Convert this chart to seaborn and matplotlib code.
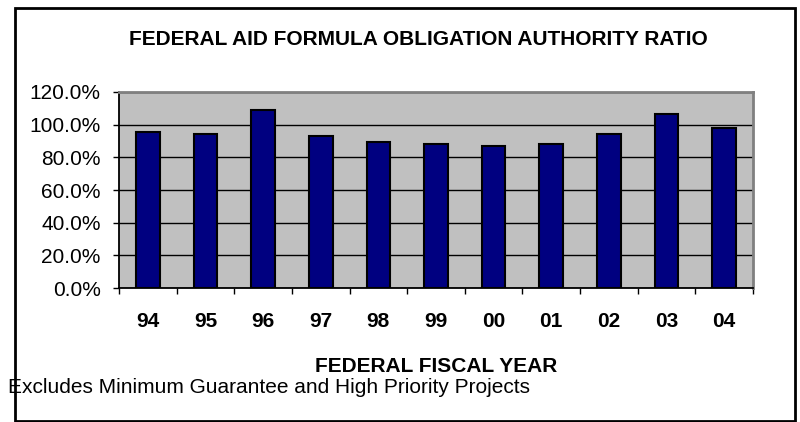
import numpy as np
import pandas as pd
import matplotlib
matplotlib.use("Agg")
import matplotlib.pyplot as plt
import seaborn as sns
from matplotlib.ticker import FuncFormatter, FixedLocator
from matplotlib.patches import Rectangle

# Dữ liệu
years = ["94", "95", "96", "97", "98", "99", "00", "01", "02", "03", "04"]
ratio = [95.3, 94.1, 108.8, 92.9, 89.2, 88.0, 86.8, 88.0, 94.1, 106.4, 97.8]

df = pd.DataFrame({"year": years, "ratio": ratio})

sns.set_style("white")
plt.rcParams["font.family"] = ["Liberation Sans", "DejaVu Sans"]
plt.rcParams["text.color"] = "black"
plt.rcParams["axes.labelcolor"] = "black"

fig = plt.figure(figsize=(8, 4.22), dpi=100)
ax = fig.add_axes([0.14875, 0.3175, 0.7925, 0.4645])
ax.set_facecolor("#C0C0C0")

sns.barplot(data=df, x="year", y="ratio", color="#000080", width=0.41,
            edgecolor="black", linewidth=1.5, saturation=1, ax=ax, zorder=3)

ax.set_ylim(0, 120)
ax.set_xlim(-0.5, len(years) - 0.5)
ax.yaxis.set_major_locator(FixedLocator(np.arange(0, 121, 20)))
ax.yaxis.set_major_formatter(FuncFormatter(lambda v, p: f"{v:.1f}%"))
ax.grid(axis="y", color="black", linewidth=1.0, zorder=1)
ax.set_axisbelow(True)

ax.tick_params(axis="y", which="major", direction="out", length=4.3, width=1,
               color="black", labelcolor="black", labelsize=15, pad=9, left=True)
ax.tick_params(axis="x", which="major", length=0, labelsize=15, pad=17,
               labelcolor="black")
ax.xaxis.set_minor_locator(FixedLocator(np.arange(-0.5, len(years), 1.0)))
ax.tick_params(axis="x", which="minor", direction="out", length=4.3, width=1,
               color="black", bottom=True)
for lab in ax.get_xticklabels():
    lab.set_fontweight("bold")

for side in ["left", "bottom"]:
    ax.spines[side].set_color("black")
    ax.spines[side].set_linewidth(1.3)
for side in ["top", "right"]:
    ax.spines[side].set_visible(True)
    ax.spines[side].set_color("#808080")
    ax.spines[side].set_linewidth(2)

ax.set_xlabel("FEDERAL FISCAL YEAR", fontsize=15, fontweight="bold")
ax.xaxis.set_label_coords(0.5, -0.4286)
ax.xaxis.label.set_va("baseline")
ax.set_ylabel("")

fig.text(0.5225, 0.8934, "FEDERAL AID FORMULA OBLIGATION AUTHORITY RATIO",
         ha="center", va="baseline", fontsize=15, fontweight="bold")
fig.text(0.01, 0.0687, "Excludes Minimum Guarantee and High Priority Projects",
         ha="left", va="baseline", fontsize=15)

# khung ngoài
fig.patches.append(Rectangle((15 / 800, 1 / 422), 780 / 800, 413 / 422,
                             transform=fig.transFigure, fill=False,
                             edgecolor="black", linewidth=2))

fig.savefig("out.png", dpi=100)
